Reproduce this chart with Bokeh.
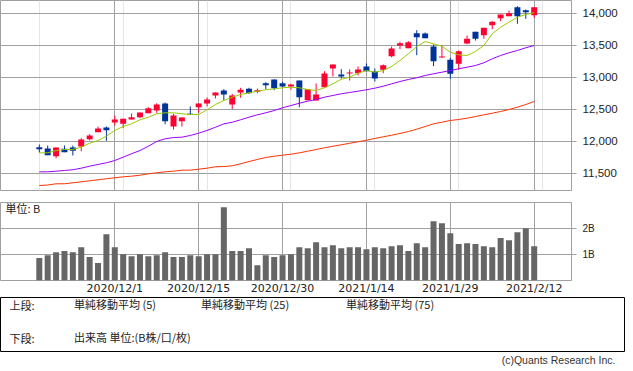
import numpy as np
from bokeh.plotting import figure
from bokeh.models import (Range1d, FixedTicker, Grid, Legend, LegendItem, Label,
                          Title, ColumnDataSource, NumeralTickFormatter)
from bokeh.layouts import column
from bokeh.embed import file_html
from bokeh.resources import INLINE

# ---------------- data ----------------
opens = [11911, 11891, 11770, 11886, 11906, 11922, 12036, 12145, 12219, 12297,
         12276, 12344, 12380, 12442, 12484, 12594, 12234, 12317, 12433, 12536,
         12594, 12719, 12797, 12578, 12766, 12823, 12776, 12911, 12969, 12911,
         12859, 12953, 12645, 12640, 12848, 13141, 13047, 13062, 13067, 13172,
         13094, 13120, 13333, 13500, 13458, 13692, 13687, 13484, 13312, 13276,
         13214, 13531, 13714, 13661, 13817, 13927, 13958, 14099, 14052, 13974]
highs = [11953, 11937, 11906, 11937, 11937, 12052, 12114, 12234, 12234, 12406,
         12355, 12437, 12453, 12536, 12598, 12609, 12432, 12375, 12547, 12594,
         12687, 12766, 12817, 12745, 12839, 12839, 12828, 12927, 12969, 12933,
         12901, 12953, 12817, 12906, 13098, 13203, 13130, 13125, 13172, 13219,
         13141, 13203, 13484, 13558, 13567, 13739, 13703, 13516, 13500, 13308,
         13422, 13656, 13714, 13776, 13880, 13984, 14047, 14114, 14062, 14099]
lows = [11828, 11786, 11739, 11833, 11781, 11848, 12016, 12145, 12011, 12250,
        12208, 12344, 12364, 12442, 12448, 12270, 12187, 12234, 12417, 12448,
        12547, 12672, 12640, 12505, 12683, 12745, 12755, 12817, 12802, 12848,
        12808, 12536, 12645, 12640, 12848, 13016, 12984, 12953, 13031, 13098,
        12937, 13067, 13317, 13442, 13458, 13348, 13614, 13177, 13312, 12980,
        13120, 13520, 13578, 13605, 13755, 13880, 13958, 13839, 13917, 13933]
closes = [11880, 11786, 11906, 11833, 11855, 12031, 12094, 12203, 12177, 12344,
          12355, 12380, 12453, 12520, 12578, 12317, 12406, 12375, 12417, 12594,
          12656, 12766, 12734, 12719, 12808, 12755, 12802, 12880, 12833, 12859,
          12891, 12692, 12817, 12734, 13062, 13203, 13016, 13078, 13125, 13098,
          12984, 13192, 13453, 13536, 13552, 13630, 13614, 13255, 13328, 13058,
          13411, 13605, 13605, 13776, 13870, 13984, 14005, 13958, 14020, 14099]
ma5 = [11823, 11823, 11859, 11875, 11875, 11911, 11973, 12016, 12083, 12172,
       12234, 12276, 12339, 12380, 12433, 12448, 12448, 12433, 12422, 12422,
       12495, 12578, 12640, 12692, 12734, 12761, 12786, 12808, 12823, 12839,
       12848, 12839, 12812, 12797, 12839, 12901, 12973, 13005, 13067, 13109,
       13083, 13109, 13172, 13266, 13370, 13484, 13562, 13526, 13489, 13395,
       13355, 13344, 13406, 13500, 13683, 13786, 13864, 13942, 13984, 14011]
ma25 = [11526, 11526, 11536, 11547, 11558, 11583, 11614, 11641, 11667, 11703,
        11755, 11808, 11859, 11926, 12000, 12042, 12062, 12067, 12094, 12130,
        12172, 12223, 12276, 12301, 12339, 12380, 12417, 12448, 12484, 12526,
        12562, 12598, 12630, 12656, 12692, 12719, 12745, 12766, 12786, 12808,
        12833, 12864, 12901, 12937, 12969, 12995, 13031, 13058, 13083, 13109,
        13136, 13161, 13187, 13230, 13292, 13344, 13386, 13422, 13464, 13500]
ma75 = [11312, 11320, 11339, 11339, 11355, 11370, 11386, 11402, 11417, 11433,
        11448, 11458, 11473, 11495, 11511, 11526, 11536, 11552, 11552, 11567,
        11583, 11605, 11609, 11620, 11651, 11687, 11719, 11750, 11770, 11786,
        11801, 11823, 11848, 11875, 11901, 11926, 11948, 11973, 11995, 12020,
        12047, 12073, 12098, 12125, 12156, 12192, 12234, 12276, 12301, 12328,
        12344, 12364, 12390, 12417, 12442, 12469, 12500, 12536, 12578, 12625]
volume = [0.87, 0.97, 1.09, 1.13, 1.09, 1.28, 0.90, 0.67, 1.78, 1.28,
          1.01, 0.93, 1.01, 0.93, 0.97, 1.09, 0.90, 0.90, 0.97, 0.93,
          1.01, 1.01, 2.82, 1.13, 1.13, 1.24, 0.59, 0.97, 0.90, 0.97,
          1.01, 1.28, 1.24, 1.47, 1.28, 1.36, 1.24, 1.28, 1.28, 1.20,
          1.28, 1.24, 1.32, 1.36, 1.13, 1.43, 1.28, 2.28, 2.20, 1.82,
          1.40, 1.43, 1.40, 1.32, 1.28, 1.63, 1.55, 1.86, 2.01, 1.32]
date_ticks = [9, 19, 29, 39, 49, 59]
date_labels = ["2020/12/1", "2020/12/15", "2020/12/30", "2021/1/14", "2021/1/29", "2021/2/12"]
price_ticks = [11500, 12000, 12500, 13000, 13500, 14000]
vol_ticks = [1, 2]
vol_labels = ["1B", "2B"]
legend_labels = ["単純移動平均 (5)", "単純移動平均 (25)", "単純移動平均 (75)", "出来高 単位:(B株/口/枚)"]

# ---------------- styles ----------------
UP, DOWN = "#FF0033", "#003399"
C5, C25, C75, CVOL = "#99CC00", "#9900FF", "#FF3300", "#666666"
GRID = "#A0A0A0"
JP = "Noto Sans CJK JP"

o = np.array(opens, float); c = np.array(closes, float)
idx = np.arange(len(opens))
src = ColumnDataSource(dict(
    x=idx, high=highs, low=lows,
    top=np.maximum(o, c), bottom=np.minimum(o, c),
    color=np.where(c >= o, UP, DOWN), ma5=ma5, ma25=ma25, ma75=ma75, vol=volume))

xr = Range1d(-4.626, 63.448)

# ---------------- top: candles ----------------
p1 = figure(frame_width=571, frame_height=190, min_border_left=0, min_border_right=54,
            min_border_top=0, min_border_bottom=1, x_range=xr,
            y_range=Range1d(11234.25, 14203.0), x_axis_location=None,
            y_axis_location="right", output_backend="svg", toolbar_location=None,
            outline_line_color=GRID, outline_line_width=1)
p1.yaxis.ticker = FixedTicker(ticks=price_ticks)
p1.yaxis.formatter = NumeralTickFormatter(format="0,0")
p1.add_layout(Grid(dimension=0, ticker=FixedTicker(ticks=date_ticks), grid_line_color=GRID))
p1.ygrid.grid_line_color = GRID

p1.segment(x0="x", y0="low", x1="x", y1="high", line_color="color", line_width=1, source=src)
p1.vbar(x="x", width=0.715, top="top", bottom="bottom", fill_color="color",
        line_color=None, source=src)
p1.line("x", "ma5", line_color=C5, line_width=1, source=src)
p1.line("x", "ma25", line_color=C25, line_width=1, source=src)
p1.line("x", "ma75", line_color=C75, line_width=1, source=src)

# ---------------- bottom: volume ----------------
p2 = figure(frame_width=571, frame_height=78, min_border_left=0, min_border_right=54,
            min_border_top=11, min_border_bottom=0, x_range=xr, y_range=Range1d(0, 3),
            y_axis_location="right", output_backend="svg", toolbar_location=None,
            outline_line_color=GRID, outline_line_width=1)
p2.xaxis.ticker = FixedTicker(ticks=date_ticks)
p2.xaxis.major_label_overrides = {t: l for t, l in zip(date_ticks, date_labels)}
p2.yaxis.ticker = FixedTicker(ticks=vol_ticks)
p2.yaxis.major_label_overrides = {t: l for t, l in zip(vol_ticks, vol_labels)}
p2.xgrid.grid_line_color = GRID
p2.ygrid.grid_line_color = GRID
p2.vbar(x="x", width=0.715, top="vol", bottom=0, fill_color=CVOL, line_color=None, source=src)
p2.add_layout(Label(x=5, y=81, x_units="screen", y_units="screen", text="単位: B",
                    text_baseline="top", text_font=JP, text_font_size="11px",
                    text_color="#222222"))

for ax in (p1.yaxis[0], p2.yaxis[0]):
    ax.axis_line_color = None
    ax.major_tick_in = 0
    ax.major_tick_out = 5
    ax.major_tick_line_color = GRID
    ax.minor_tick_line_color = None
    ax.major_label_standoff = 6
    ax.major_label_text_font = "Liberation Sans"
    ax.major_label_text_color = "#222222"
p1.yaxis.major_label_text_font_size = "11.5px"
p2.yaxis.major_label_text_font_size = "10px"

xa = p2.xaxis[0]
xa.axis_line_color = None
xa.major_tick_in = 0
xa.major_tick_out = 0
xa.minor_tick_line_color = None
xa.major_label_standoff = 1
xa.major_label_text_line_height = 0.9
xa.major_label_text_font = "DejaVu Sans"
xa.major_label_text_font_size = "11px"
xa.major_label_text_color = "#222222"

# ---------------- legend box ----------------
p3 = figure(frame_width=624, frame_height=54, min_border_left=0, min_border_right=1,
            min_border_top=0, min_border_bottom=0, x_range=Range1d(0, 624),
            y_range=Range1d(0, 54), x_axis_location=None, y_axis_location=None,
            output_backend="svg", toolbar_location=None,
            outline_line_color="#000000", outline_line_width=1)
p3.grid.visible = False
r5 = p3.line(x=[], y=[], line_color=C5, line_width=1)
r25 = p3.line(x=[], y=[], line_color=C25, line_width=1)
r75 = p3.line(x=[], y=[], line_color=C75, line_width=1)
rv = p3.line(x=[], y=[], line_color=CVOL, line_width=4)

def add_leg(label, r, x, y):
    lg = Legend(items=[LegendItem(label=label, renderers=[r])], location=(x, y),
                orientation="horizontal", glyph_width=30, glyph_height=12,
                label_standoff=4, padding=0, margin=0, spacing=0,
                border_line_color=None, background_fill_alpha=0,
                label_text_font=JP, label_text_font_size="11px",
                label_text_color="#222222", label_height=12)
    p3.add_layout(lg)

add_leg(legend_labels[0], r5, 40, 39)
add_leg(legend_labels[1], r25, 167, 39)
add_leg(legend_labels[2], r75, 312, 39)
add_leg(legend_labels[3], rv, 40, 6)
for txt, yy in (("上段:", 47), ("下段:", 14)):
    p3.add_layout(Label(x=9, y=yy, x_units="screen", y_units="screen", text=txt,
                        text_baseline="middle", text_font=JP, text_font_size="11px",
                        text_color="#222222"))
p3.add_layout(Title(text="(c)Quants Research Inc.", align="right", offset=9,
                    standoff=1, text_font="Liberation Sans", text_font_size="10.5px",
                    text_font_style="normal", text_color="#333333"), "below")

layout = column(p1, p2, p3, spacing=0)
open("out.html", "w").write(file_html(layout, INLINE))
